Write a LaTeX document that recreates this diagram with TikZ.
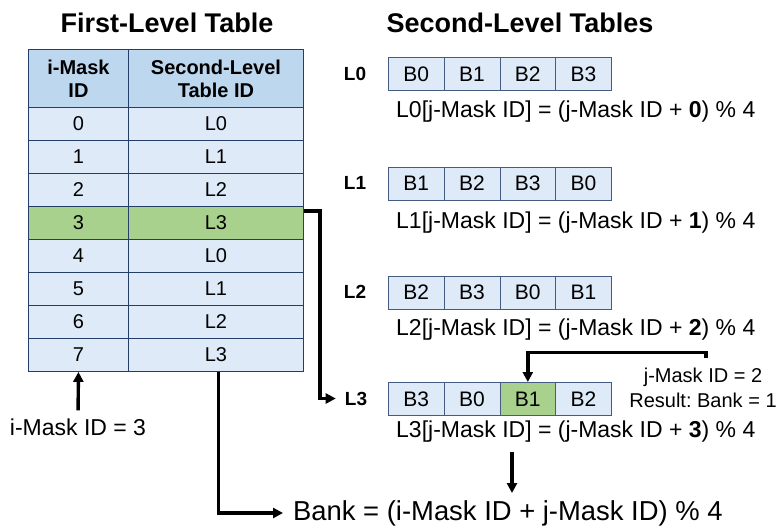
\documentclass[tikz,border=0pt]{standalone}
\usepackage{fontspec}
\setmainfont{Liberation Sans}
\usetikzlibrary{arrows.meta,calc}

\definecolor{cellblue}{RGB}{222,234,247}
\definecolor{headblue}{RGB}{189,215,238}
\definecolor{hitgreen}{RGB}{169,209,142}
\definecolor{gridline}{RGB}{36,62,106}
\definecolor{bankline}{RGB}{68,92,130}

\newcommand{\setfs}[2]{\fontsize{#1}{#2}\selectfont}

\begin{document}
\begin{tikzpicture}[x=1pt,y=-1pt,
  cell/.style={draw=gridline,line width=0.9pt,inner sep=0pt,anchor=north west,
               font=\setfs{20}{23}},
  bank/.style={draw=bankline,line width=0.9pt,inner sep=0pt,anchor=north west,
               minimum width=55.75,minimum height=33,font=\setfs{21}{24}},
  title/.style={font=\bfseries\setfs{27}{30},inner sep=0pt},
  lbl/.style={font=\bfseries\setfs{19}{22},inner sep=0pt},
  fml/.style={font=\setfs{23}{26},inner sep=0pt,anchor=west},
  conn/.style={line width=3.4pt,-{Triangle[length=10pt,width=10pt]}}
]
\useasboundingbox (0,0) rectangle (781,525);

% titles
\node[title] (t1) at (167,23) {First-Level Table};
\node[title] (t2) at (520,23) {Second-Level Tables};

% first-level table: header and eight rows
\node[cell,fill=headblue,font=\bfseries\setfs{20}{23},align=center,
      minimum width=100,minimum height=58] (h1) at (28,49) {i-Mask\\ID};
\node[cell,fill=headblue,font=\bfseries\setfs{20}{23},align=center,
      minimum width=175,minimum height=58] (h2) at (128,49) {Second-Level\\Table ID};
\foreach \i/\t/\c in {0/L0/cellblue,1/L1/cellblue,2/L2/cellblue,3/L3/hitgreen,
                      4/L0/cellblue,5/L1/cellblue,6/L2/cellblue,7/L3/cellblue}{
  \node[cell,fill=\c,minimum width=100,minimum height=33] (a\i) at (28,{107+33*\i}) {\i};
  \node[cell,fill=\c,minimum width=175,minimum height=33] (b\i) at (128,{107+33*\i}) {\t};
}

% second-level tables
\foreach \b [count=\j from 0] in {B0,B1,B2,B3}
  \node[bank,fill=cellblue] (s0c\j) at ({388+55.75*\j},57) {\b};
\foreach \b [count=\j from 0] in {B1,B2,B3,B0}
  \node[bank,fill=cellblue] (s1c\j) at ({388+55.75*\j},166.5) {\b};
\foreach \b [count=\j from 0] in {B2,B3,B0,B1}
  \node[bank,fill=cellblue] (s2c\j) at ({388+55.75*\j},275.5) {\b};
\foreach \b/\c [count=\j from 0] in {B3/cellblue,B0/cellblue,B1/hitgreen,B2/cellblue}
  \node[bank,fill=\c] (s3c\j) at ({388+55.75*\j},382) {\b};

\node[lbl] (l0) at (355,73.5) {L0};
\node[lbl] (l1) at (355,183) {L1};
\node[lbl] (l2) at (355,292) {L2};
\node[lbl] (l3) at (356,398.5) {L3};

\node[fml] (f0) at (396,112) {L0[j-Mask ID] = (j-Mask ID + \textbf{0}) \% 4};
\node[fml] (f1) at (396,223) {L1[j-Mask ID] = (j-Mask ID + \textbf{1}) \% 4};
\node[fml] (f2) at (396,330) {L2[j-Mask ID] = (j-Mask ID + \textbf{2}) \% 4};
\node[fml] (f3) at (396,432) {L3[j-Mask ID] = (j-Mask ID + \textbf{3}) \% 4};

% notes and the final formula
\node[font=\frenchspacing\setfs{20}{25},align=center,inner sep=0pt] (note) at (703,387.5)
  {j-Mask ID = 2\\Result: Bank = 1};
\node[font=\setfs{23}{26},inner sep=0pt] (im) at (78,427) {i-Mask ID = 3};
\node[font=\setfs{27.4}{30},inner sep=0pt,anchor=west] (res) at (293,513)
  {Bank = (i-Mask ID + j-Mask ID) \% 4};

% connectors
\coordinate (rowout) at ($(b3.north east)+(0,5)$);
\draw[conn,shorten >=9pt] (rowout) -- ++(16,0) |- (l3.west);

\draw[conn,shorten <=8pt] (im.north) -- (a7.south);

\coordinate (tabout) at ($(b7.south)+(2.5,0)$);
\draw[conn,shorten >=10pt] (tabout) |- (res.west);

\coordinate (fdown) at (512,452);
\draw[conn,shorten >=7pt] (fdown) -- (fdown |- res.north);

\coordinate (jtick) at ($(note.north)+(3,-9)$);
\draw[conn] (jtick) -- ++(0,-6) -| (s3c2.north);
\end{tikzpicture}
\end{document}
